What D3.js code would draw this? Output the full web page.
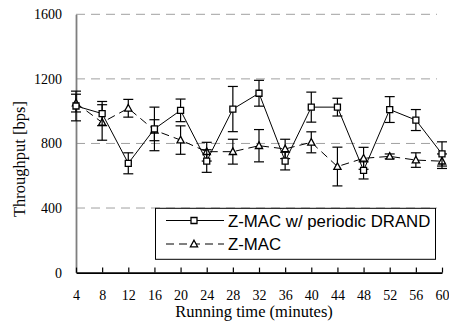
<!DOCTYPE html>
<html>
<head>
<meta charset="utf-8">
<script src="https://cdn.jsdelivr.net/npm/d3@7"></script>
<style>
  html, body { margin: 0; padding: 0; background: #fff; }
  svg { display: block; }
</style>
</head>
<body>
<svg id="chart" width="449" height="324"></svg>
<script>
// ---- data ----
const minutes = [4, 8, 12, 16, 20, 24, 28, 32, 36, 40, 44, 48, 52, 56, 60];
const drandValues = [1032, 985, 677, 890, 1005, 691, 1013, 1111, 691, 1025, 1025, 633, 1010, 945, 735];
const drandErrors = [92, 75, 65, 135, 70, 70, 140, 80, 55, 93, 55, 53, 80, 65, 75];
const zmacValues = [1050, 930, 1018, 882, 821, 749, 749, 786, 766, 807, 657, 708, 720, 697, 690];
const zmacErrors = [55, 110, 55, 65, 88, 58, 77, 100, 60, 65, 120, 68, 15, 45, 45];
const yTicks = [0, 400, 800, 1200, 1600];
const seriesNames = ["Z-MAC w/ periodic DRAND", "Z-MAC"];
const xTitle = "Running time (minutes)";
const yTitle = "Throughput [bps]";

const svg = d3.select("#chart");
const x = d3.scaleLinear().domain([4, 60]).range([76, 442]);
const y = d3.scaleLinear().domain([0, 1600]).range([272.6, 14.3]);

const serif = "'Liberation Serif', 'Times New Roman', serif";
const sans = "'Liberation Sans', Arial, sans-serif";

// gridlines
svg.append("g").selectAll("line").data(yTicks.filter(d => d > 0)).join("line")
  .attr("x1", x(4)).attr("x2", 437)
  .attr("y1", d => y(d)).attr("y2", d => y(d))
  .attr("stroke", "#a0a0a0").attr("stroke-width", 1)
  .attr("stroke-dasharray", "9,6");

// y axis (no ticks)
const yAxis = d3.axisLeft(y).tickValues(yTicks).tickFormat(d3.format("d")).tickSize(0).tickPadding(14);
const gy = svg.append("g").attr("transform", `translate(${x(4)},0)`).call(yAxis);
gy.select(".domain").attr("stroke", "#7f7f7f").attr("stroke-width", 1.8);
gy.selectAll("text").attr("font-family", serif).attr("font-size", 14).attr("fill", "#000");

// x axis with inward ticks
const xAxis = d3.axisBottom(x).tickValues(minutes).tickFormat(d3.format("d")).tickSizeInner(-5).tickSizeOuter(0).tickPadding(17);
const gx = svg.append("g").attr("transform", `translate(0,${y(0)})`).call(xAxis);
gx.select(".domain").attr("stroke", "#000").attr("stroke-width", 1.6);
gx.selectAll(".tick line").attr("stroke", "#000").attr("stroke-width", 1.2);
gx.selectAll("text").attr("font-family", serif).attr("font-size", 14).attr("fill", "#000");

// titles
svg.append("text").attr("x", 254).attr("y", 317).attr("text-anchor", "middle")
  .attr("font-family", serif).attr("font-size", 16.5).text(xTitle);
svg.append("text").attr("transform", "translate(25,159) rotate(-90)").attr("text-anchor", "middle")
  .attr("font-family", serif).attr("font-size", 16.5).text(yTitle);

function drawSeries(vals, errs, dash, marker) {
  const pts = minutes.map((m, i) => ({ m, v: vals[i], e: errs[i] }));
  const g = svg.append("g");
  // error bars
  const eb = g.append("g").attr("stroke", "#000").attr("stroke-width", 1.2);
  pts.forEach(p => {
    eb.append("line").attr("x1", x(p.m)).attr("x2", x(p.m)).attr("y1", y(p.v + p.e)).attr("y2", y(p.v - p.e));
    eb.append("line").attr("x1", x(p.m) - 5).attr("x2", x(p.m) + 5).attr("y1", y(p.v + p.e)).attr("y2", y(p.v + p.e));
    eb.append("line").attr("x1", x(p.m) - 5).attr("x2", x(p.m) + 5).attr("y1", y(p.v - p.e)).attr("y2", y(p.v - p.e));
  });
  g.append("path").datum(pts)
    .attr("d", d3.line().x(d => x(d.m)).y(d => y(d.v)))
    .attr("fill", "none").attr("stroke", "#000").attr("stroke-width", 1)
    .attr("stroke-dasharray", dash);
  g.selectAll(".mk").data(pts).join("path")
    .attr("transform", d => `translate(${x(d.m)},${y(d.v)})`)
    .attr("d", marker)
    .attr("fill", "#fff").attr("stroke", "#000").attr("stroke-width", 1.3);
}
const sq = "M-3,-3H3V3H-3Z";
const tri = "M0,-3.8L3.6,2.8H-3.6Z";
drawSeries(zmacValues, zmacErrors, "8,5", tri);
drawSeries(drandValues, drandErrors, null, sq);

// legend
const lg = svg.append("g");
lg.append("rect").attr("x", 155.5).attr("y", 208.3).attr("width", 280).attr("height", 51)
  .attr("fill", "#fff").attr("stroke", "#000").attr("stroke-width", 1);
const rows = [{ name: seriesNames[0], dash: null, mk: sq, yy: 220.5 },
              { name: seriesNames[1], dash: "8,5", mk: tri, yy: 244 }];
rows.forEach(r => {
  lg.append("line").attr("x1", 166).attr("x2", 224).attr("y1", r.yy).attr("y2", r.yy)
    .attr("stroke", "#000").attr("stroke-width", 1).attr("stroke-dasharray", r.dash);
  lg.append("path").attr("transform", `translate(194,${r.yy})`).attr("d", r.mk)
    .attr("fill", "#fff").attr("stroke", "#000").attr("stroke-width", 1.3);
  lg.append("text").attr("x", 228).attr("y", r.yy + 6).attr("font-family", sans)
    .attr("font-size", 16.8).text(r.name);
});
</script>
</body>
</html>
